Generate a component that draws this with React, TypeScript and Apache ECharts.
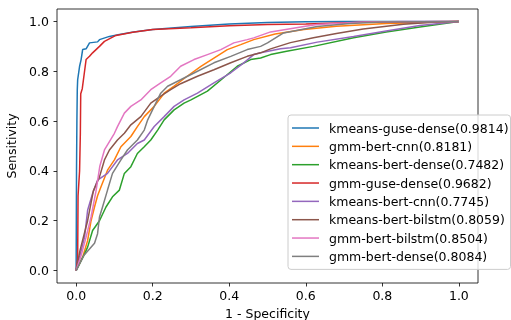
import React, { useEffect, useRef } from "react";
import * as echarts from "echarts";

const seriesNames = [
  "kmeans-guse-dense(0.9814)",
  "gmm-bert-cnn(0.8181)",
  "kmeans-bert-dense(0.7482)",
  "gmm-guse-dense(0.9682)",
  "kmeans-bert-cnn(0.7745)",
  "kmeans-bert-bilstm(0.8059)",
  "gmm-bert-bilstm(0.8504)",
  "gmm-bert-dense(0.8084)",
];

const colors = ["#1f77b4", "#ff7f0e", "#2ca02c", "#d62728", "#9467bd", "#8c564b", "#e377c2", "#7f7f7f"];

const kmeansGuseDense = [
  [0, 0], [0.001, 0.4], [0.002, 0.6], [0.003, 0.726], [0.004, 0.766], [0.009, 0.82], [0.013, 0.847],
  [0.017, 0.887], [0.026, 0.89], [0.035, 0.914], [0.056, 0.918], [0.061, 0.927], [0.087, 0.94],
  [0.113, 0.948], [0.15, 0.958], [0.2, 0.968], [0.3, 0.98], [0.4, 0.99], [0.5, 0.996], [0.6, 0.999],
  [0.7, 1], [1, 1],
];
const gmmBertCnn = [
  [0, 0], [0.017, 0.054], [0.03, 0.12], [0.039, 0.2], [0.048, 0.255], [0.056, 0.3], [0.065, 0.336],
  [0.082, 0.403], [0.1, 0.444], [0.117, 0.497], [0.143, 0.538], [0.16, 0.578], [0.178, 0.618],
  [0.204, 0.659], [0.23, 0.712], [0.256, 0.74], [0.29, 0.78], [0.326, 0.82], [0.36, 0.853],
  [0.395, 0.887], [0.43, 0.907], [0.464, 0.927], [0.52, 0.95], [0.595, 0.968], [0.68, 0.981],
  [0.81, 0.992], [1, 1],
];
const kmeansBertDense = [
  [0, 0], [0.013, 0.04], [0.022, 0.067], [0.03, 0.094], [0.043, 0.161], [0.061, 0.2], [0.078, 0.255],
  [0.095, 0.296], [0.113, 0.323], [0.126, 0.39], [0.143, 0.417], [0.16, 0.47], [0.178, 0.497],
  [0.195, 0.524], [0.213, 0.564], [0.23, 0.605], [0.256, 0.645], [0.282, 0.672], [0.3, 0.685],
  [0.343, 0.72], [0.386, 0.775], [0.421, 0.82], [0.456, 0.847], [0.482, 0.853], [0.508, 0.867],
  [0.55, 0.88], [0.62, 0.9], [0.725, 0.935], [0.81, 0.958], [0.898, 0.978], [1, 1],
];
const gmmGuseDense = [
  [0, 0], [0.004, 0.05], [0.005, 0.3], [0.009, 0.4], [0.011, 0.55], [0.012, 0.71], [0.016, 0.73],
  [0.022, 0.8], [0.026, 0.847], [0.035, 0.86], [0.043, 0.874], [0.061, 0.9], [0.074, 0.92],
  [0.104, 0.944], [0.148, 0.957], [0.2, 0.968], [0.3, 0.975], [0.4, 0.983], [0.5, 0.988], [0.6, 0.99],
  [0.75, 0.997], [0.9, 0.999], [1, 1],
];
const kmeansBertCnn = [
  [0, 0], [0.009, 0.054], [0.022, 0.134], [0.03, 0.242], [0.043, 0.309], [0.056, 0.363], [0.082, 0.39],
  [0.108, 0.444], [0.134, 0.47], [0.16, 0.51], [0.178, 0.524], [0.204, 0.578], [0.23, 0.618],
  [0.256, 0.659], [0.282, 0.685], [0.317, 0.712], [0.36, 0.753], [0.404, 0.794], [0.438, 0.834],
  [0.464, 0.867], [0.482, 0.874], [0.534, 0.89], [0.56, 0.894], [0.63, 0.917], [0.725, 0.94],
  [0.81, 0.962], [0.898, 0.984], [1, 1],
];
const kmeansBertBilstm = [
  [0, 0], [0.01, 0.08], [0.03, 0.2], [0.045, 0.32], [0.061, 0.376], [0.074, 0.444], [0.087, 0.484],
  [0.108, 0.524], [0.126, 0.551], [0.143, 0.585], [0.169, 0.618], [0.195, 0.672], [0.221, 0.7],
  [0.247, 0.726], [0.273, 0.75], [0.317, 0.78], [0.36, 0.806], [0.404, 0.834], [0.447, 0.86],
  [0.482, 0.874], [0.508, 0.89], [0.56, 0.915], [0.62, 0.935], [0.68, 0.952], [0.75, 0.97],
  [0.855, 0.989], [0.94, 0.998], [1, 1],
];
const gmmBertBilstm = [
  [0, 0], [0.013, 0.06], [0.026, 0.134], [0.039, 0.215], [0.052, 0.32], [0.062, 0.42], [0.074, 0.484],
  [0.1, 0.551], [0.108, 0.578], [0.126, 0.632], [0.143, 0.659], [0.169, 0.685], [0.195, 0.726],
  [0.221, 0.753], [0.247, 0.78], [0.273, 0.82], [0.308, 0.847], [0.343, 0.867], [0.378, 0.887],
  [0.412, 0.914], [0.447, 0.927], [0.464, 0.934], [0.508, 0.958], [0.595, 0.98], [0.63, 0.988],
  [0.74, 0.997], [0.85, 1], [1, 1],
];
const gmmBertDense = [
  [0, 0], [0.02, 0.06], [0.048, 0.11], [0.056, 0.148], [0.061, 0.215], [0.069, 0.255], [0.082, 0.323],
  [0.095, 0.39], [0.117, 0.444], [0.134, 0.484], [0.16, 0.524], [0.178, 0.564], [0.187, 0.605],
  [0.204, 0.659], [0.221, 0.712], [0.239, 0.74], [0.273, 0.766], [0.317, 0.8], [0.36, 0.834],
  [0.404, 0.86], [0.447, 0.887], [0.482, 0.9], [0.5, 0.914], [0.542, 0.954], [0.63, 0.98],
  [0.716, 0.992], [0.8, 0.998], [1, 1],
];

const seriesData = [
  kmeansGuseDense, gmmBertCnn, kmeansBertDense, gmmGuseDense,
  kmeansBertCnn, kmeansBertBilstm, gmmBertBilstm, gmmBertDense,
];

const xTicks = [0, 0.2, 0.4, 0.6, 0.8, 1.0];
const yTicks = [0, 0.2, 0.4, 0.6, 0.8, 1.0];

const FONT = "DejaVu Sans";
const FS = 12.5;

export default function App() {
  const ref = useRef<HTMLDivElement>(null);
  useEffect(() => {
    if (!ref.current) return;
    const chart = echarts.init(ref.current, null, { renderer: "svg" });
    const axisCommon = {
      type: "value" as const,
      min: -0.05,
      max: 1.05,
      splitLine: { show: false },
      axisLine: { show: false, onZero: false },
      nameTextStyle: { fontFamily: FONT, fontSize: FS, color: "#000" },
    };
    chart.setOption({
      animation: false,
      grid: {
        left: 57, top: 9, width: 421, height: 274,
        show: true, borderColor: "#000", borderWidth: 0.8,
        containLabel: false, outerBoundsMode: "none",
      },
      xAxis: {
        ...axisCommon,
        name: "1 - Specificity",
        nameLocation: "middle",
        nameGap: 24,
        axisTick: { show: true, length: 3.5, lineStyle: { color: "#000", width: 0.8 }, customValues: xTicks },
        axisLabel: {
          customValues: xTicks,
          formatter: (v: number) => v.toFixed(1),
          margin: 6,
          fontFamily: FONT, fontSize: FS, color: "#000",
        },
      },
      yAxis: {
        ...axisCommon,
        name: "Sensitivity",
        nameLocation: "middle",
        nameGap: 30,
        nameRotate: 90,
        axisTick: { show: true, length: 3.5, lineStyle: { color: "#000", width: 0.8 }, customValues: yTicks },
        axisLabel: {
          customValues: yTicks,
          formatter: (v: number) => v.toFixed(1),
          margin: 8,
          fontFamily: FONT, fontSize: FS, color: "#000",
        },
      },
      legend: {
        orient: "vertical",
        left: 288,
        top: 115,
        padding: [5.5, 2, 5.5, 4],
        itemGap: 3.34,
        itemWidth: 27,
        itemHeight: 1.5,
        icon: "rect",
        backgroundColor: "rgba(255,255,255,0.8)",
        borderColor: "#cccccc",
        borderWidth: 1,
        borderRadius: 3,
        textStyle: { fontFamily: FONT, fontSize: FS, color: "#000", lineHeight: 15, padding: [0, 0, 0, 5] },
        data: seriesNames,
      },
      series: seriesNames.map((name, i) => ({
        name,
        type: "line",
        data: seriesData[i],
        symbol: "none",
        showSymbol: false,
        color: colors[i],
        lineStyle: { width: 1.5, color: colors[i] },
        emphasis: { disabled: true },
      })),
    });
    return () => chart.dispose();
  }, []);
  return <div ref={ref} style={{ position: "fixed", left: 0, top: 0, width: 511, height: 320 }} />;
}
